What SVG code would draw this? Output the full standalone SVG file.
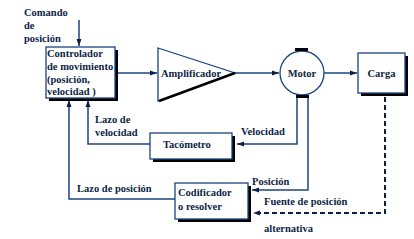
<svg xmlns="http://www.w3.org/2000/svg" width="414" height="239" viewBox="0 0 414 239" font-family="Liberation Serif, Times New Roman, serif">
<style>
text{font-size:10.5px;font-weight:bold;fill:#0d1f45}
.ln{fill:none;stroke:#1b4482;stroke-width:1.5}
.box{fill:#fff;stroke:#1b4482;stroke-width:1.3}
.sh{fill:#000}
.dash{fill:none;stroke:#0d1f45;stroke-width:2;stroke-dasharray:5,3}
</style>
<defs>
<marker id="ah" markerWidth="8" markerHeight="6" refX="7" refY="3" orient="auto" markerUnits="userSpaceOnUse">
<path d="M0,0.5 L7,3 L0,5.5 z" fill="#0d1f45"/>
</marker>
</defs>
<rect width="414" height="239" fill="#fff"/>
<g id="connectors">
<polyline class="ln" points="79,20 79,46" marker-end="url(#ah)"/>
<polyline class="ln" points="118,73 157,73" marker-end="url(#ah)"/>
<polyline class="ln" points="235,73 279,73" marker-end="url(#ah)"/>
<polyline class="ln" points="324,73 357,73" marker-end="url(#ah)"/>
<polyline class="ln" points="297,98 297,144 237,144" marker-end="url(#ah)"/>
<polyline class="ln" points="308,98 308,190 252,190" marker-end="url(#ah)"/>
<polyline class="dash" points="385,97 385,213 253,213" marker-end="url(#ah)"/>
<polyline class="ln" points="150,144 88,144 88,100" marker-end="url(#ah)"/>
<polyline class="ln" points="175,199 69,199 69,100" marker-end="url(#ah)"/>
</g>
<g id="comando">
<text x="24" y="16">Comando</text>
<text x="24" y="29">de</text>
<text x="24" y="42">posición</text>
</g>
<g id="controlador">
<rect class="sh" x="49" y="50" width="69" height="51"/>
<rect class="box" x="46" y="47" width="69" height="51"/>
<text x="47" y="57">Controlador</text>
<text x="47" y="70">de movimiento</text>
<text x="47" y="83">(posición,</text>
<text x="47" y="95">velocidad )</text>
</g>
<g id="amplificador">
<polygon points="158,48 235,73 158,101" fill="#fff" stroke="#1b4482" stroke-width="1.3"/>
<line x1="159" y1="101" x2="235" y2="73" stroke="#000" stroke-width="2.5"/>
<text x="161" y="77">Amplificador</text>
</g>
<g id="motor">
<circle cx="302" cy="73" r="22" fill="#fff" stroke="#1b4482" stroke-width="1.3"/>
<rect class="sh" x="295" y="48" width="13" height="3"/>
<rect class="sh" x="296" y="95" width="13" height="3"/>
<text x="302" y="77" text-anchor="middle">Motor</text>
</g>
<g id="carga">
<rect class="sh" x="361" y="56" width="47" height="40"/>
<rect class="box" x="358" y="53" width="47" height="40"/>
<text x="381.5" y="77" text-anchor="middle">Carga</text>
</g>
<g id="tacometro">
<rect class="sh" x="153" y="136" width="82" height="26"/>
<rect class="box" x="150" y="133" width="82" height="26"/>
<text x="163" y="148">Tacómetro</text>
</g>
<g id="codificador">
<rect class="sh" x="178" y="186" width="73" height="36"/>
<rect class="box" x="175" y="183" width="73" height="36"/>
<text x="178" y="196">Codificador</text>
<text x="178" y="210">o resolver</text>
</g>
<g id="labels">
<text x="241" y="135">Velocidad</text>
<text x="95" y="123">Lazo de</text>
<text x="95" y="136">velocidad</text>
<text x="252" y="185">Posición</text>
<text x="264" y="205">Fuente de posición</text>
<text x="264" y="232">alternativa</text>
<text x="77" y="192">Lazo de posición</text>
</g>
</svg>
